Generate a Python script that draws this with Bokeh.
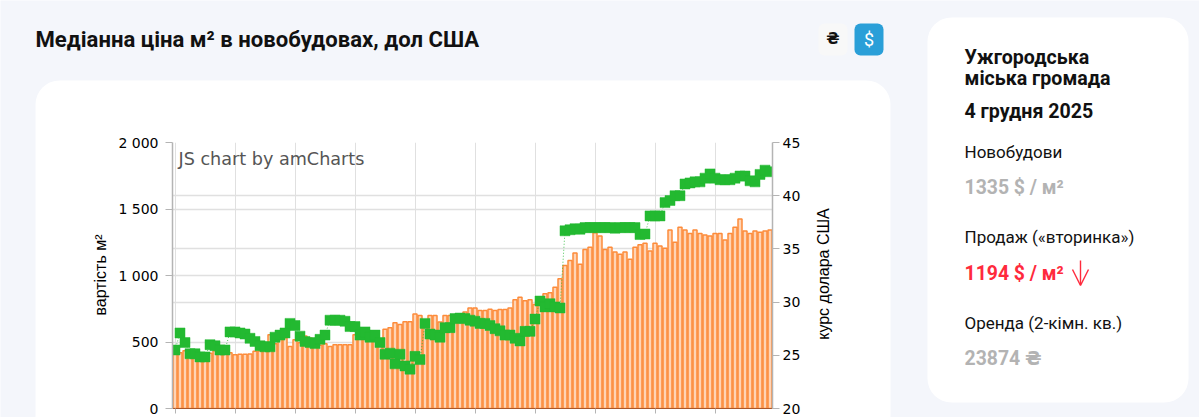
from math import pi
from bokeh.plotting import figure
from bokeh.embed import file_html
from bokeh.resources import INLINE
from bokeh.models import (Range1d, LinearAxis, FixedTicker, Grid, Label, BoxAnnotation,
                          ColumnDataSource, Arrow, OpenHead)

title = "Медіанна ціна м² в новобудовах, дол США"
price_ticks = [0, 500, 1000, 1500, 2000]
price_labels = {0: "0", 500: "500", 1000: "1 000", 1500: "1 500", 2000: "2 000"}
rate_ticks = [20, 25, 30, 35, 40, 45]
month_ticks = [0, 12, 24, 36, 48, 60, 72, 84, 96, 108]

months = list(range(120))
price = [410, 420, 435, 430, 415, 415, 405, 415, 435, 415, 420, 420, 405, 408, 408, 410, 430, 432, 440, 555,
         487, 530, 532, 467, 517, 495, 545, 530, 480, 475, 487, 467, 480, 480, 480, 480, 555, 520, 525, 530,
         540, 510, 595, 607, 645, 632, 652, 652, 710, 700, 650, 700, 700, 650, 700, 700, 700, 705, 725, 755,
         755, 737, 737, 747, 737, 745, 745, 755, 817, 837, 810, 817, 782, 780, 862, 870, 912, 975, 1075, 1112,
         1170, 1085, 1195, 1212, 1322, 1297, 1195, 1212, 1177, 1160, 1177, 1122, 1212, 1232, 1242, 1185, 1242, 1222, 1205, 1342,
         1250, 1362, 1342, 1315, 1342, 1315, 1305, 1297, 1315, 1315, 1267, 1315, 1362, 1425, 1335, 1315, 1335, 1325, 1335, 1342]
rate = [25.5, 27.1, 26.2, 25.15, 25.15, 24.85, 24.85, 26.0, 25.9, 25.5, 25.5, 27.2, 27.2, 27.1, 27.0, 26.6, 26.3, 25.9, 25.8, 25.8,
        26.7, 26.9, 27.1, 28.0, 27.8, 26.8, 26.3, 26.2, 26.1, 26.5, 26.9, 28.3, 28.3, 28.3, 28.2, 27.7, 27.7, 26.9, 27.2, 26.7,
        26.9, 26.2, 25.1, 25.2, 24.2, 25.1, 24.0, 23.7, 24.9, 24.6, 28.0, 27.0, 26.9, 26.7, 27.6, 27.6, 28.45, 28.5, 28.45, 28.3,
        28.2, 28.0, 28.0, 27.8, 27.5, 27.3, 26.9, 26.9, 26.6, 26.35, 27.25, 27.25, 28.4, 30.1, 29.55, 29.85, 29.55, 29.45, 36.7, 36.8,
        36.9, 36.85, 37.0, 37.0, 37.0, 37.0, 37.0, 37.0, 36.95, 37.0, 37.0, 37.0, 37.0, 36.35, 36.4, 38.1, 38.1, 38.1, 39.35, 39.55,
        40.0, 40.0, 41.1, 41.2, 41.3, 41.3, 41.65, 42.05, 41.65, 41.5, 41.5, 41.5, 41.65, 41.85, 41.85, 41.4, 41.3, 42.0, 42.4, 42.25]

BG = "#f4f6fb"
ABS = {"position": "absolute", "left": "0", "top": "0"}

# page layer: cards, headings, side panel (its data space is the page itself)
bg = figure(width=1199, height=417, output_backend="svg", toolbar_location=None,
            x_range=Range1d(0, 1199), y_range=Range1d(417, 0), x_axis_type=None, y_axis_type=None,
            min_border=0, background_fill_color=BG, border_fill_color=BG, outline_line_color=None,
            styles=ABS)
bg.grid.visible = False


def box(l, r, t, b, color, radius):
    bg.add_layout(BoxAnnotation(left=l, right=r, top=t, bottom=b, fill_color=color, fill_alpha=1,
                                line_color=None, border_radius=radius, level="underlay", editable=False))


box(35, 890, 80, 440, "white", 24)
box(927, 1188, 17, 402, "white", 24)
box(818, 847, 23, 55, "#f8f8f8", 6)
box(854, 883, 23, 55, "#2a9fd8", 6)


def text(x, y, s, size, color="#111111", style="normal", font="Roboto", align="left", angle=0):
    bg.add_layout(Label(x=x, y=y, text=s, text_font=font, text_font_size=size, text_color=color,
                        text_font_style=style, text_align=align, text_baseline="alphabetic", angle=angle))


HRYVNIA_FONT = "Roboto, 'DejaVu Sans'"
text(35, 38, title, "22.1px", style="bold")
text(832.5, 38, "₴", "15.5px", style="bold", align="center", font="'DejaVu Sans'")
text(868.5, 39, "$", "18px", color="white", align="center")
text(964, 57, "Ужгородська", "19.6px", style="bold")
text(964, 77.5, "міська громада", "19.6px", style="bold")
text(964, 111, "4 грудня 2025", "19.6px", style="bold")
text(964, 151, "Новобудови", "17px")
text(964, 187, "1335 $ / м²", "19.4px", color="#b3b3b3", style="bold")
text(964, 236, "Продаж («вторинка»)", "17px")
text(964, 272.5, "1194 $ / м²", "19.4px", color="#ff2a3c", style="bold")
text(964, 322, "Оренда (2-кімн. кв.)", "17px")
text(964, 358, "23874 ₴", "19.4px", color="#b3b3b3", style="bold", font=HRYVNIA_FONT)
text(823, 273.5, "курс долара США", "16px", color="#000000", font="Liberation Sans", align="center", angle=pi / 2)
text(100, 274.5, "вартість м²", "16px", color="#000000", font="Liberation Sans", align="center", angle=pi / 2)
bg.add_layout(Arrow(x_start=1080, y_start=260, x_end=1080, y_end=285,
                    line_color="#ff2a3c", line_width=1.4, start=None,
                    end=OpenHead(size=16, line_color="#ff2a3c", line_width=1.4)))

# chart layer
p = figure(width=1199, height=417, output_backend="svg", toolbar_location=None,
           x_range=Range1d(-0.5, 119.5), y_range=Range1d(0, 2000),
           min_border_left=172, min_border_right=427, min_border_top=142, min_border_bottom=9,
           background_fill_color="white", border_fill_color=None, outline_line_color=None,
           styles=ABS)
p.extra_y_ranges = {"rate": Range1d(20, 45)}

GRID = "#e0e0e0"
p.xgrid.visible = False
p.ygrid.visible = False
p.add_layout(Grid(dimension=0, ticker=FixedTicker(ticks=month_ticks), grid_line_color=GRID, grid_line_width=1))
p.add_layout(Grid(dimension=1, ticker=FixedTicker(ticks=price_ticks), grid_line_color=GRID, grid_line_width=1.3))
p.add_layout(Grid(dimension=1, ticker=FixedTicker(ticks=rate_ticks), y_range_name="rate",
                  grid_line_color=GRID, grid_line_width=1.3))

src = ColumnDataSource(dict(month=months, price=price, rate=rate))
p.vbar(x="month", top="price", bottom=0, width=0.8, source=src,
       fill_color="#ffd4b5", line_color="#fd8b3a", line_width=1.5)
p.line(x="month", y="rate", source=src, y_range_name="rate", line_color="#22b830",
       line_width=1, line_dash=[1, 2], line_alpha=0.8)
p.scatter(x="month", y="rate", source=src, y_range_name="rate", marker="square", size=10,
          fill_color="#23b931", line_color="#23b931", line_width=0.5)

AXIS = "#b4b4b4"
ax = p.xaxis[0]
ax.ticker = FixedTicker(ticks=month_ticks)
ax.major_label_text_font_size = "0px"
ax.axis_line_color = "#a9562a"
ax.axis_line_width = 1.2
ax.major_tick_line_color = AXIS
ax.major_tick_out = 5
ax.major_tick_in = 0
ax.minor_tick_line_color = None
ax.major_label_standoff = 0

ay = p.yaxis[0]
ay.ticker = FixedTicker(ticks=price_ticks)
ay.major_label_overrides = price_labels
ar = LinearAxis(y_range_name="rate", ticker=FixedTicker(ticks=rate_ticks))
p.add_layout(ar, "right")
for a, standoff in ((ay, 7), (ar, 3)):
    a.axis_line_color = AXIS
    a.axis_line_width = 1.5
    a.major_tick_line_color = AXIS
    a.major_tick_out = 7
    a.major_tick_in = 0
    a.minor_tick_line_color = None
    a.major_label_text_font = "DejaVu Sans"
    a.major_label_text_font_size = "14px"
    a.major_label_text_color = "#000000"
    a.major_label_standoff = standoff

p.add_layout(Label(x=178, y=158.5, x_units="canvas", y_units="canvas", text="JS chart by amCharts",
                   text_font="DejaVu Sans", text_font_size="17.6px", text_color="#555555",
                   text_baseline="alphabetic"))

open("out.html", "w").write(file_html([bg, p], INLINE))
